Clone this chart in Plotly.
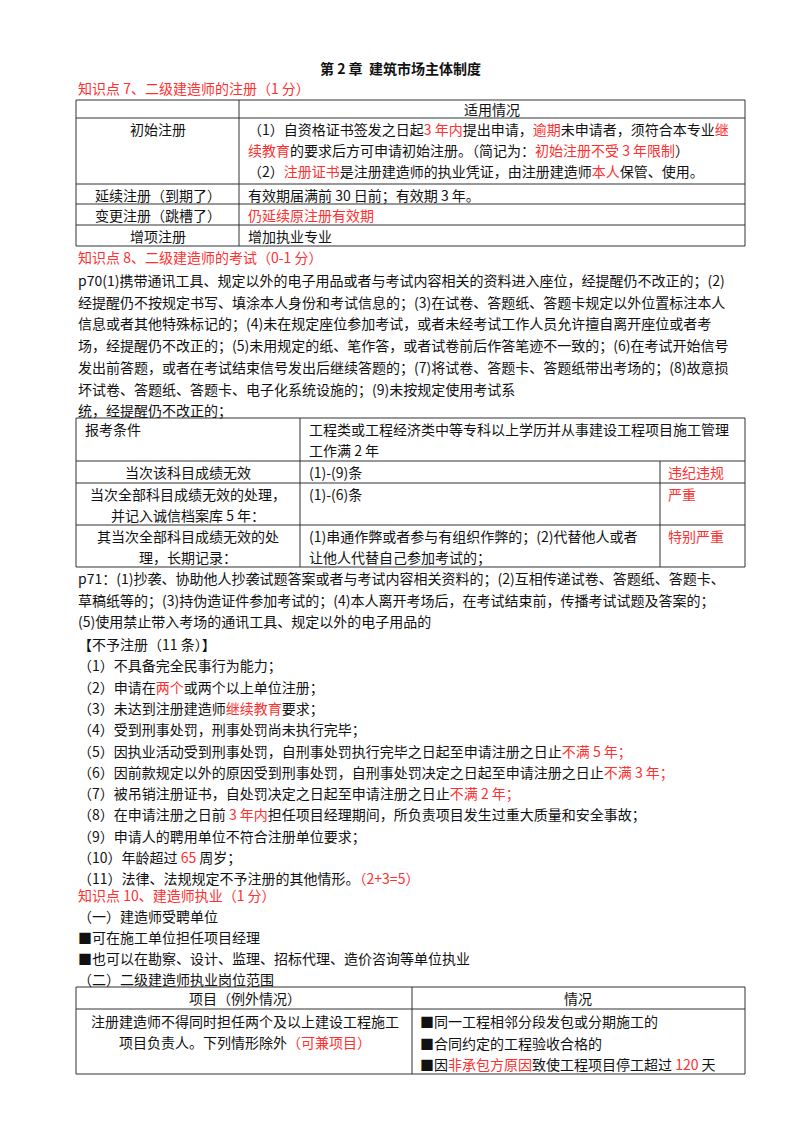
import plotly.graph_objects as go

RED = '#ff3030'
FONT = 'Noto Sans CJK SC'


def r(s):
    return f"<span style='color:{RED}'>{s}</span>"


# ---- text content ----
title = "第 2 章  建筑市场主体制度"
kp7 = "知识点 7、二级建造师的注册（1 分）"
t1_header = "适用情况"
t1_left = ["初始注册", "延续注册（到期了）", "变更注册（跳槽了）", "增项注册"]
t1_right = [
    ["（1）自资格证书签发之日起" + r("3 年内") + "提出申请，" + r("逾期") + "未申请者，须符合本专业" + r("继"),
     r("续教育") + "的要求后方可申请初始注册。（简记为：" + r("初始注册不受 3 年限制") + "）",
     "（2）" + r("注册证书") + "是注册建造师的执业凭证，由注册建造师" + r("本人") + "保管、使用。"],
    ["有效期届满前 30 日前；有效期 3 年。"],
    [r("仍延续原注册有效期")],
    ["增加执业专业"],
]

kp8 = "知识点 8、二级建造师的考试（0-1 分）"
p70 = [
    "p70(1)携带通讯工具、规定以外的电子用品或者与考试内容相关的资料进入座位，经提醒仍不改正的；(2)",
    "经提醒仍不按规定书写、填涂本人身份和考试信息的；(3)在试卷、答题纸、答题卡规定以外位置标注本人",
    "信息或者其他特殊标记的；(4)未在规定座位参加考试，或者未经考试工作人员允许擅自离开座位或者考",
    "场，经提醒仍不改正的；(5)未用规定的纸、笔作答，或者试卷前后作答笔迹不一致的；(6)在考试开始信号",
    "发出前答题，或者在考试结束信号发出后继续答题的；(7)将试卷、答题卡、答题纸带出考场的；(8)故意损",
    "坏试卷、答题纸、答题卡、电子化系统设施的；(9)未按规定使用考试系",
    "统，经提醒仍不改正的；",
]
t2_col1 = [["报考条件"], ["当次该科目成绩无效"], ["当次全部科目成绩无效的处理，", "并记入诚信档案库 5 年："],
           ["其当次全部科目成绩无效的处", "理，长期记录："]]
t2_col2 = [["工程类或工程经济类中等专科以上学历并从事建设工程项目施工管理", "工作满 2 年"], ["(1)-(9)条"], ["(1)-(6)条"],
           ["(1)串通作弊或者参与有组织作弊的；(2)代替他人或者", "让他人代替自己参加考试的；"]]
t2_col3 = [[], ["违纪违规"], ["严重"], ["特别严重"]]

p71 = [
    "p71：(1)抄袭、协助他人抄袭试题答案或者与考试内容相关资料的；(2)互相传递试卷、答题纸、答题卡、",
    "草稿纸等的；(3)持伪造证件参加考试的；(4)本人离开考场后，在考试结束前，传播考试试题及答案的；",
    "(5)使用禁止带入考场的通讯工具、规定以外的电子用品的",
]
no_reg = [
    "【不予注册（11 条）】",
    "（1）不具备完全民事行为能力；",
    "（2）申请在" + r("两个") + "或两个以上单位注册；",
    "（3）未达到注册建造师" + r("继续教育") + "要求；",
    "（4）受到刑事处罚，刑事处罚尚未执行完毕；",
    "（5）因执业活动受到刑事处罚，自刑事处罚执行完毕之日起至申请注册之日止" + r("不满 5 年；"),
    "（6）因前款规定以外的原因受到刑事处罚，自刑事处罚决定之日起至申请注册之日止" + r("不满 3 年；"),
    "（7）被吊销注册证书，自处罚决定之日起至申请注册之日止" + r("不满 2 年；"),
    "（8）在申请注册之日前 " + r("3 年内") + "担任项目经理期间，所负责项目发生过重大质量和安全事故；",
    "（9）申请人的聘用单位不符合注册单位要求；",
    "（10）年龄超过 " + r("65") + " 周岁；",
    "（11）法律、法规规定不予注册的其他情形。" + r("（2+3=5）"),
]
kp10 = [
    r("知识点 10、建造师执业（1 分）"),
    "（一）建造师受聘单位",
    "■可在施工单位担任项目经理",
    "■也可以在勘察、设计、监理、招标代理、造价咨询等单位执业",
    "（二）二级建造师执业岗位范围",
]
t3_header = ["项目（例外情况）", "情况"]
t3_left = ["注册建造师不得同时担任两个及以上建设工程施工", "项目负责人。下列情形除外" + r("（可兼项目）")]
t3_right = ["■同一工程相邻分段发包或分期施工的", "■合同约定的工程验收合格的",
            "■因" + r("非承包方原因") + "致使工程项目停工超过 " + r("120") + " 天"]

fig = go.Figure()
ann = []
shapes = []


def txt(x, y, s, anchor='left', color='#111', size=14, bold=False):
    if bold:
        s = f"<b>{s}</b>"
    ann.append(dict(x=x, y=y, text=s, xanchor=anchor, yanchor='middle', showarrow=False,
                    font=dict(family=FONT, size=size, color=color)))


def line(x0, y0, x1, y1):
    shapes.append(dict(type='line', x0=x0, y0=y0, x1=x1, y1=y1, line=dict(color='#333', width=1)))


def box(x0, y0, x1, y1):
    shapes.append(dict(type='rect', x0=x0, y0=y0, x1=x1, y1=y1, line=dict(color='#333', width=1)))


txt(400, 68, title, anchor='center', size=14, bold=True)
txt(76, 88, kp7, color=RED)

# table 1
L, R = 76, 745
rows1 = [100, 118, 184, 204, 225, 246]
box(L, rows1[0], R, rows1[-1])
for y in rows1[1:-1]:
    line(L, y, R, y)
line(239, rows1[0], 239, rows1[-1])
txt(492, 109, t1_header, anchor='center')
for i, name in enumerate(t1_left):
    y0 = rows1[i + 1] + 11
    txt(158, y0, name, anchor='center')
    for j, s in enumerate(t1_right[i]):
        txt(246, y0 + 21 * j, s)

txt(76, 257, kp8, color=RED)
for i, s in enumerate(p70):
    txt(76, 280 + 21.7 * i, s)

# table 2
rows2 = [418, 461, 483, 525, 567]
box(L, rows2[0], R, rows2[-1])
for y in rows2[1:-1]:
    line(L, y, R, y)
line(300, rows2[0], 300, rows2[-1])
line(660, rows2[1], 660, rows2[-1])
for i in range(4):
    y0 = rows2[i] + 11
    for j, s in enumerate(t2_col1[i]):
        if i == 0:
            txt(83, y0 + 21 * j, s)
        else:
            txt(188, y0 + 21 * j, s, anchor='center')
    for j, s in enumerate(t2_col2[i]):
        txt(307, y0 + 21 * j, s)
    for j, s in enumerate(t2_col3[i]):
        txt(666, y0 + 21 * j, s, color=RED)

for i, s in enumerate(p71):
    txt(76, 578 + 21.7 * i, s)
for i, s in enumerate(no_reg):
    txt(76, 644 + 21.3 * i, s)
for i, s in enumerate(kp10):
    txt(76, 895 + 20.9 * i, s)

# table 3
rows3 = [987, 1009, 1074]
box(L, rows3[0], R, rows3[-1])
line(L, rows3[1], R, rows3[1])
line(412, rows3[0], 412, rows3[-1])
txt(245, 998, t3_header[0], anchor='center')
txt(578, 998, t3_header[1], anchor='center')
for j, s in enumerate(t3_left):
    txt(245, 1021 + 21 * j, s, anchor='center')
for j, s in enumerate(t3_right):
    txt(418, 1021 + 21.5 * j, s)

# page body has an 8px margin, so offset the axes to keep page coordinates
fig.update_layout(
    width=800, height=1132,
    margin=dict(l=0, r=0, t=0, b=0),
    paper_bgcolor='white', plot_bgcolor='white',
    xaxis=dict(range=[8, 808], visible=False, fixedrange=True),
    yaxis=dict(range=[1140, 8], visible=False, fixedrange=True),
    annotations=ann, shapes=shapes,
    showlegend=False,
)

fig.write_html("out.html")
